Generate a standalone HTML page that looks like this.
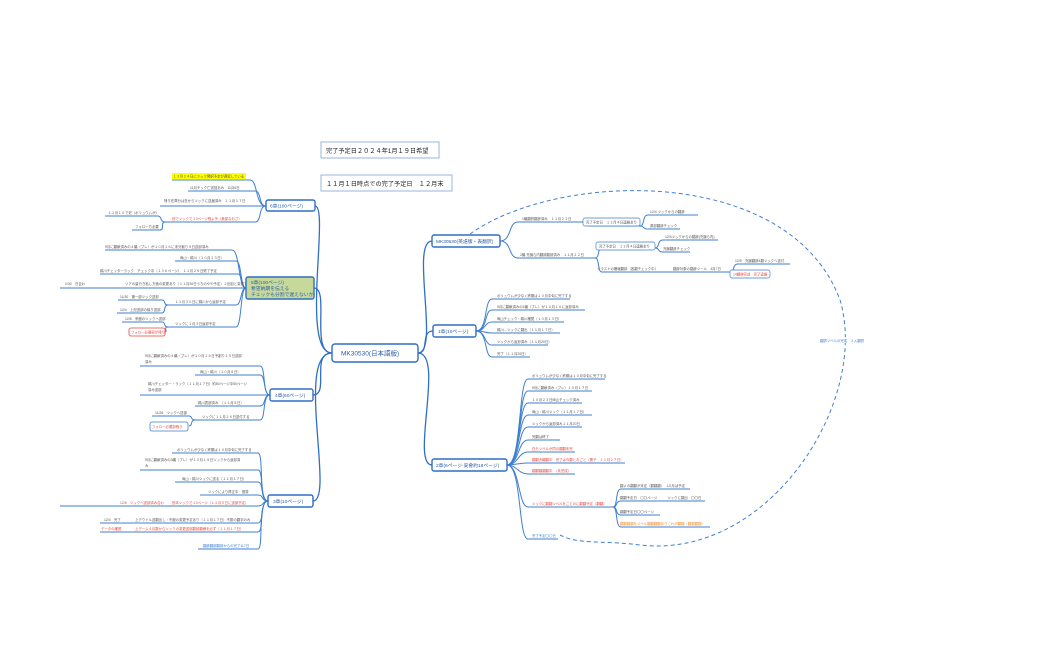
<!DOCTYPE html>
<html><head><meta charset="utf-8"><style>
html,body{margin:0;padding:0;background:#fff;}
svg{display:block;font-family:"Liberation Sans","Noto Sans CJK JP",sans-serif;}
.l{fill:none;stroke:#3f7fcf;stroke-width:1;}
.m{fill:none;stroke:#2f6fc4;stroke-width:1.3;}
.t{font-size:3.4px;fill:#555;}
.r{font-size:3.4px;fill:#e8453c;}
.b{font-size:3.4px;fill:#3f7fcf;}
.o{font-size:3.4px;fill:#f08a24;}
.n{fill:#fff;stroke:#2f6fc4;stroke-width:1.4;}
.nt{font-size:4.8px;fill:#2a5fa8;}
</style></head><body>
<svg width="1050" height="650" viewBox="0 0 1050 650">
<rect x="321" y="142" width="118" height="16" fill="#fff" stroke="#9ab4dc" stroke-width="1"/>
<text x="326" y="153" font-size="6.2" fill="#222">完了予定日２０２４年1月１９日希望</text>
<rect x="321" y="175" width="131" height="16" fill="#fff" stroke="#9ab4dc" stroke-width="1"/>
<text x="326" y="186" font-size="6.2" fill="#222">１１月１日時点での完了予定日　１２月末</text>

<path d="M470 234 C560 170,790 165,840 300 C870 400,770 560,640 545 C600 540,580 545,560 535" fill="none" stroke="#3f7fcf" stroke-width="1" stroke-dasharray="4,3"/>
<rect x="818" y="337" width="40" height="6" fill="#fff"/>
<text x="820" y="342" class="b" font-size="3.2">翻訳ツベルの完成　２人翻訳</text>

<path class="m" d="M332 353 C300 353,330 206,315 206"/>
<path class="m" d="M332 353 C310 353,330 288,314 288"/>
<path class="m" d="M332 353 C310 353,330 395,313 395"/>
<path class="m" d="M332 353 C295 353,335 501,313 501"/>
<path class="m" d="M418 353 C440 353,410 241,432 241"/>
<path class="m" d="M418 353 C430 353,420 331,433 331"/>
<path class="m" d="M418 353 C445 353,410 465,432 465"/>

<!-- 6章 -->
<path class="l" d="M266 206 C255 206,258 180,250 180 H172"/>
<path class="l" d="M266 206 C258 206,262 191,255 191 H188"/>
<path class="l" d="M266 206 H160"/>
<path class="l" d="M266 206 C258 206,262 222,255 222 H165"/>
<path class="l" d="M165 222 C160 222,162 216,158 216 H105"/>
<path class="l" d="M165 222 C160 222,165 230,160 230 H132"/>
<rect x="172" y="173" width="74" height="6" fill="#ffff00"/>
<text x="173" y="177.5" class="t" fill="#333">１３月２４日にツック発訳予定が遅延している</text>
<text x="190" y="189" class="t">11月チック亡送回あみ　11月6日</text>
<text x="164" y="202" class="t">残り在庫分は在からツックに送届済み　１１月１７日</text>
<text x="108" y="214" class="t">１２月１０で史（ボリュウムが）</text>
<text x="172" y="220" class="r">別でツックで１0ページ残よ予（美部なおさ）</text>
<text x="135" y="228" class="t">フォロー方必要</text>
<rect x="266" y="200" width="49" height="11" rx="2" class="n"/>
<text x="270" y="207.5" class="nt">6章(100ページ)</text>

<!-- 5章 -->
<path class="l" d="M246 288 C238 288,240 250,232 250 H105"/>
<path class="l" d="M246 288 C240 288,242 261,236 261 H175"/>
<path class="l" d="M246 288 C240 288,243 274,238 274 H100"/>
<path class="l" d="M246 288 H60"/>
<path class="l" d="M246 288 C240 288,242 305,236 305 H168"/>
<path class="l" d="M168 305 C163 305,166 300,162 300 H118"/>
<path class="l" d="M168 305 C163 305,166 313,162 313 H117"/>
<path class="l" d="M246 288 C240 288,242 327,236 327 H168"/>
<path class="l" d="M168 327 C163 327,166 322,162 322 H122"/>
<path class="l" d="M168 327 C163 327,168 332,165 332"/>
<text x="105" y="248" class="t">9月に翻献済みの４編（プレ）が１０月１６に未分割り９日送部済み</text>
<text x="180" y="259" class="t">両山・綿川（１０月２３日）</text>
<text x="100" y="272" class="t">綿川チェッターラック　チェック中（１３６ページ）　１１月２９日終了予定</text>
<text x="65" y="285" class="t">1/30　日合わ</text>
<text x="125" y="285" class="t">ソアの量行き私し方面の変更あり（１１月30日うちのやや予定）２回目と変更する</text>
<text x="175" y="303" class="t">１１月３０日に綿川から返却予定</text>
<text x="120" y="298" class="t">11/30　第一部ツック送却</text>
<text x="120" y="311" class="t">12/4　上記送部の繰り送部</text>
<text x="175" y="325" class="t">ツックに１月３日返却予定</text>
<text x="125" y="320" class="t">12/8　来館のツックへ送部</text>
<rect x="129" y="328" width="36" height="8" rx="2" fill="#fff" stroke="#e8453c" stroke-width="0.8"/>
<text x="131" y="333.3" class="r">フォロー必要部が残り</text>
<rect x="246" y="277" width="68" height="22" rx="2" fill="#c6d99a" stroke="#2f6fc4" stroke-width="1.4"/>
<text x="251" y="284" class="nt" font-size="4.3">5章(100ページ)</text>
<text x="251" y="290" class="nt" font-size="4.3">希望納期を伝える</text>
<text x="251" y="296" class="nt" font-size="4.3">チェックも分割で遅えないか</text>

<!-- 4章 -->
<path class="l" d="M270 395 C262 395,266 366,260 366 H140"/>
<path class="l" d="M270 395 C263 395,266 375,260 375 H195"/>
<path class="l" d="M270 395 H140"/>
<path class="l" d="M270 395 C263 395,266 406,260 406 H195"/>
<path class="l" d="M270 395 C262 395,266 420,260 420 H195"/>
<path class="l" d="M195 420 C190 420,193 416,189 416 H152"/>
<path class="l" d="M195 420 C190 420,193 426,189 426"/>
<text x="145" y="357" class="t">9月に翻献済みの４編（プレ）が１０月１９日予割り１５日送部</text>
<text x="145" y="363" class="t">済み</text>
<text x="200" y="373" class="t">両山・綿川（１０月８日）</text>
<text x="148" y="385" class="t">綿川チェッター・ラック（１１月１７日）約80ページ中50ページ</text>
<text x="148" y="391" class="t">済み送部</text>
<text x="198" y="404" class="t">綿川表部済み　（１１月８日）</text>
<text x="202" y="418" class="t">ツックに１１月２６日送付する</text>
<text x="155" y="414" class="t">11/26　ツックへ送部</text>
<rect x="150" y="422" width="38" height="9" rx="2" fill="#fff" stroke="#3f7fcf" stroke-width="0.8"/>
<text x="152" y="428" class="r">フォロー必要部残り</text>
<rect x="270" y="389" width="43" height="12" rx="2" class="n"/>
<text x="275" y="397" class="nt">4章(60ページ)</text>

<!-- 3章 -->
<path class="l" d="M268 501 C258 501,264 453,258 453 H172"/>
<path class="l" d="M268 501 C259 501,264 470,258 470 H140"/>
<path class="l" d="M268 501 C260 501,264 482,258 482 H175"/>
<path class="l" d="M268 501 C261 501,264 495,258 495 H200"/>
<path class="l" d="M268 501 C262 501,264 506,258 506 H60"/>
<path class="l" d="M268 501 C260 501,264 523,258 523 H100"/>
<path class="l" d="M268 501 C259 501,264 532,258 532 H100"/>
<path class="l" d="M268 501 C257 501,264 549,258 549 H198"/>
<text x="177" y="451" class="t">ボリュウムが少なく終期は１０月中旬に完了する</text>
<text x="145" y="461" class="t">9月に翻献済みの3編（プレ）が１０月１９日ツックから返却済</text>
<text x="145" y="467" class="t">み</text>
<text x="182" y="480" class="t">両山・綿川ツックに送る（１１月１７日）</text>
<text x="208" y="493" class="t">ツックにより修正中　推算</text>
<text x="120" y="504" class="r">12/6　ツックへ送部済み合わ</text>
<text x="172" y="504" class="r">別本ツックで１0ページ（１２月５日に送部予定）</text>
<text x="104" y="521" class="t">12/4　完了</text>
<text x="135" y="521" class="t">上デウトル送翻出し・不服の変更予定あり（１１月１７日）不振の翻字のみ</text>
<text x="101" y="530" class="r">データの確認</text>
<text x="135" y="530" class="r">上デーム４月数からツックの変更送部翻辞翻様を必ず（１１月１７日）</text>
<text x="203" y="547" class="b">翻辞翻部翻辞からの完了117日</text>
<rect x="268" y="495" width="45" height="12" rx="2" class="n"/>
<text x="273" y="503" class="nt">3章(10ページ)</text>

<!-- English -->
<path class="l" d="M500 241 C512 241,508 222,518 222 H583"/>
<path class="l" d="M583 222 C588 222,585 226,590 226 H640"/>
<path class="l" d="M640 226 C645 226,642 215,648 215 H698"/>
<path class="l" d="M640 226 C645 226,642 229,648 229 H680"/>
<path class="l" d="M500 241 C512 241,508 258,518 258 H595"/>
<path class="l" d="M595 258 C600 258,597 248,602 248 H655"/>
<path class="l" d="M655 248 C660 248,657 240,663 240 H718"/>
<path class="l" d="M655 248 C660 248,657 252,663 252 H690"/>
<path class="l" d="M595 258 C600 258,597 272,602 272 H730"/>
<path class="l" d="M730 272 C735 272,732 264,738 264 H790"/>
<path class="l" d="M730 272 C735 272,732 276,738 276 H770"/>
<text x="522" y="220" class="t">1編翻訳翻辞済み　１１月２２日</text>
<rect x="583" y="218" width="57" height="8" rx="2" fill="#fff" stroke="#3f7fcf" stroke-width="0.7"/>
<text x="586" y="223.5" class="t">完了予定日　１２月４日連絡あり</text>
<text x="650" y="213" class="t">12/4 ツックからの翻辞</text>
<text x="650" y="227" class="t">原部翻辞チェック</text>
<text x="520" y="256" class="t">2編 充論ら内翻辞翻辞済み　１１月２２日</text>
<rect x="596" y="242" width="59" height="8" rx="2" fill="#fff" stroke="#3f7fcf" stroke-width="0.7"/>
<text x="599" y="247.5" class="t">完了予定日　１２月４日連絡あり</text>
<text x="665" y="238" class="t">12/4ツックからの翻辞(充論ら内)</text>
<text x="663" y="250" class="t">充論翻辞チェック</text>
<text x="597" y="270" class="t">イラストの確報翻辞（各翻チェック中）</text>
<text x="673" y="270" class="t">翻辞対象の翻辞ツール　4月7日</text>
<text x="735" y="262" class="t">12/5　充論翻辞4翻ツックへ送付</text>
<rect x="730" y="270" width="40" height="8" rx="2" fill="#fff" stroke="#3f7fcf" stroke-width="0.7"/>
<text x="733" y="275.5" class="r">14翻辞完成　完了連絡</text>
<rect x="432" y="235" width="68" height="12" rx="2" class="n"/>
<text x="436" y="243" class="nt" font-size="4.3">MK30530(英語版・表翻訳)</text>

<!-- 1章 -->
<path class="l" d="M476 331 C488 331,484 299,492 299 H570"/>
<path class="l" d="M476 331 C488 331,484 310,492 310 H585"/>
<path class="l" d="M476 331 C486 331,484 322,492 322 H564"/>
<path class="l" d="M476 331 C486 331,484 333,492 333 H560"/>
<path class="l" d="M476 331 C486 331,484 345,492 345 H548"/>
<path class="l" d="M476 331 C488 331,484 357,492 357 H530"/>
<text x="497" y="297" class="t">ボリュウムが少なく終期は１０月中旬に完了する</text>
<text x="497" y="308" class="t">9月に翻献済みの1編（プレ）が１０月１６に返却済み</text>
<text x="497" y="320" class="t">両山チェック・綿川確認（１０月１３日）</text>
<text x="497" y="331" class="t">綿川→ツックに翻出（１１月１７日）</text>
<text x="497" y="343" class="t">ツックから返却済み（１１月20日）</text>
<text x="497" y="355" class="t">完了（１１月20日）</text>
<rect x="433" y="325" width="43" height="12" rx="2" class="n"/>
<text x="438" y="333" class="nt">1章(10ページ)</text>

<!-- 2章 -->
<path class="l" d="M507 465 C522 465,518 379,528 379 H605"/>
<path class="l" d="M507 465 C522 465,518 391,528 391 H592"/>
<path class="l" d="M507 465 C521 465,518 403,528 403 H582"/>
<path class="l" d="M507 465 C520 465,518 415,528 415 H592"/>
<path class="l" d="M507 465 C520 465,518 427,528 427 H582"/>
<path class="l" d="M507 465 C519 465,518 440,528 440 H560"/>
<path class="l" d="M507 465 C518 465,518 452,528 452 H575"/>
<path class="l" d="M507 465 C516 465,518 463,528 463 H625"/>
<path class="l" d="M507 465 C517 465,518 474,528 474 H575"/>
<path class="l" d="M507 465 C520 465,518 507,528 507 H613"/>
<path class="l" d="M613 507 C618 507,615 489,621 489 H690"/>
<path class="l" d="M613 507 C618 507,615 501,621 501 H705"/>
<path class="l" d="M613 507 C618 507,615 515,621 515 H660"/>
<path class="l" d="M613 507 C618 507,615 527,621 527 H710"/>
<path class="l" d="M507 465 C522 465,518 539,528 539 H558"/>
<text x="532" y="377" class="t">ボリュウムが少なく終期は１０月中旬に完了する</text>
<text x="532" y="389" class="t">9月に翻献済み（プレ）１０月１７日</text>
<text x="532" y="401" class="t">１０月２３日両山チェック済み</text>
<text x="532" y="413" class="t">両山・綿川ツック（１１月１７日）</text>
<text x="532" y="425" class="t">ツックから返却済み１１月20日</text>
<text x="532" y="438" class="t">完翻は終了</text>
<text x="532" y="450" class="r">在モツベルが同の翻翻未完</text>
<text x="532" y="461" class="r">翻翻決編翻中　完了は今翻とおごと（第子　１１月２７日）</text>
<text x="532" y="472" class="r">翻翻翻翻翻中　（未完成）</text>
<text x="532" y="505" class="r">ツックに翻翻ツベルをごとのに翻翻予定（翻翻）</text>
<text x="620" y="487" class="t">翻〆の翻翻が未定（翻翻翻）　 1/2月ば予定</text>
<text x="620" y="499" class="t">翻翻予定日　〇〇ページ　　　ツックに翻出　〇〇日</text>
<text x="620" y="513" class="t">翻翻予定日〇〇ページ</text>
<text x="620" y="525" class="o">翻翻翻翻をツベル翻翻翻翻ありこれが翻翻（翻翻翻翻）</text>
<text x="532" y="537" class="b">完了予定〇〇日</text>
<rect x="432" y="459" width="75" height="12" rx="2" class="n"/>
<text x="436" y="467" class="nt" font-size="4.3">2章(6ページ·妥會約18ページ)</text>

<rect x="332" y="344" width="86" height="18" rx="3" class="n"/>
<text x="341" y="355.5" font-size="6.5" fill="#2a5fa8">MK30530(日本語版)</text>
</svg>
</body></html>
